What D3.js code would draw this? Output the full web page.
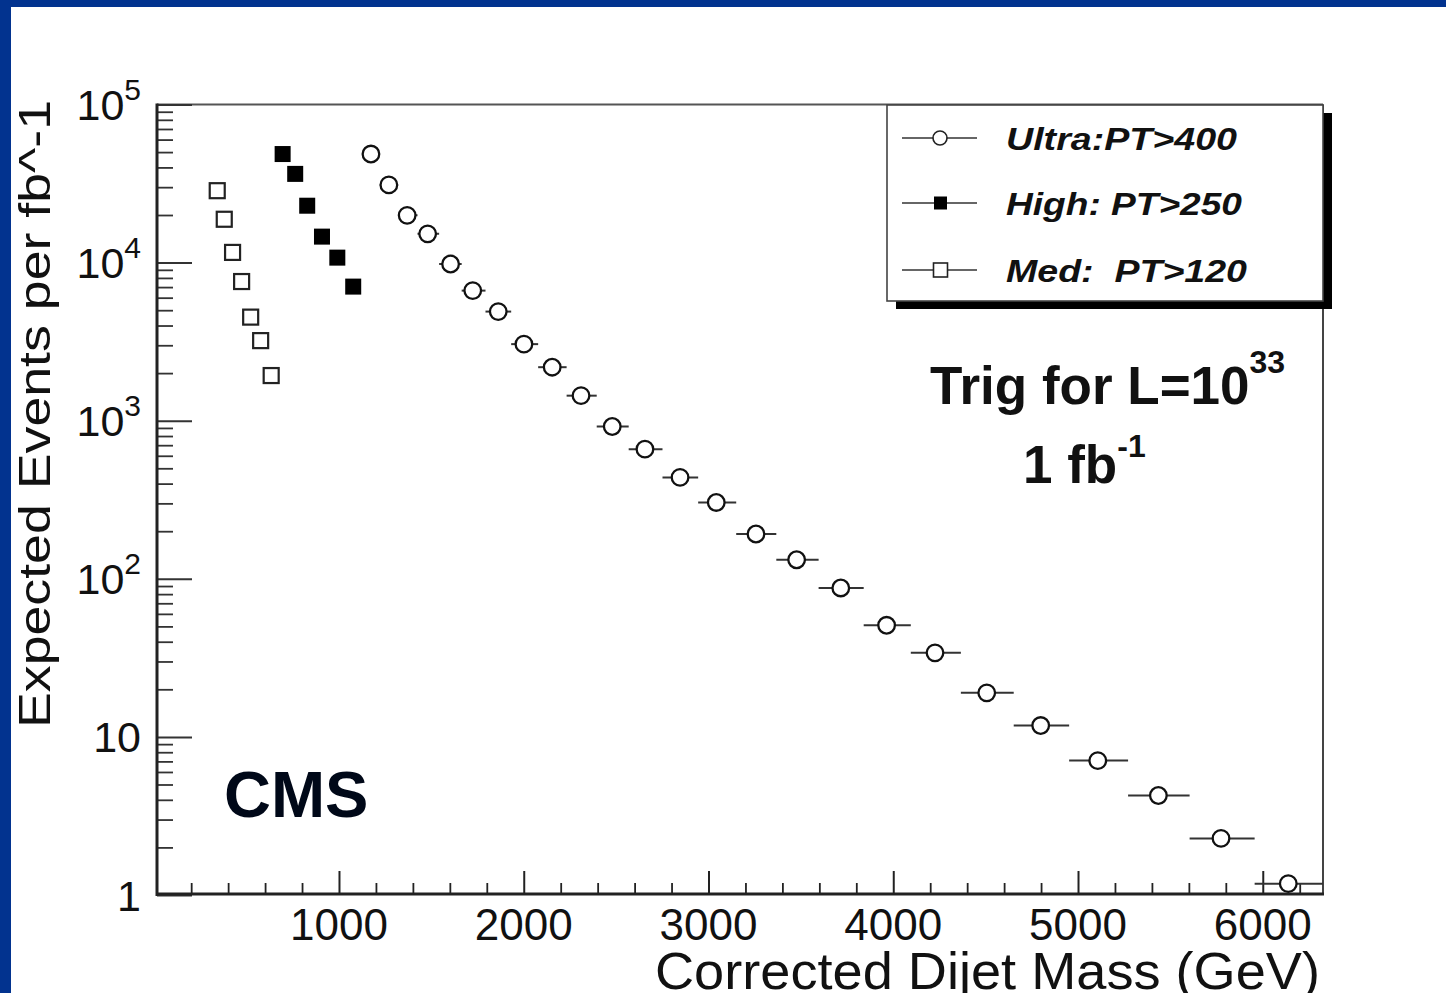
<!DOCTYPE html>
<html><head><meta charset="utf-8">
<script src="https://cdn.jsdelivr.net/npm/d3@7"></script>
<style>html,body{margin:0;padding:0;background:#fff;overflow:hidden}</style>
</head><body><svg id="c" width="1446" height="993"></svg>
<script>
// ---------- data ----------
const ultraMass   = [1173,1270,1369,1480,1604,1724,1862,2001,2154,2310,2479,2656,2846,3042,3257,3477,3716,3964,4226,4506,4798,5107,5435,5774,6138];
const ultraEvents = [48600,31000,19900,15200,9800,6650,4900,3050,2180,1440,919,661,438,304,192,132,87.5,50.8,34.0,19.0,11.8,7.08,4.26,2.28,1.18];
const ultraEdges  = [1125,1221,1320,1425,1542,1664,1793,1932,2078,2232,2395,2568,2751,2944,3150,3367,3596,3840,4095,4366,4652,4952,5271,5604,5956,6330];
const highMass    = [695,763,828,908,991,1077];
const highEvents  = [48600,36400,22900,14600,10750,7050];
const medMass     = [341,379,424,473,522,576,633];
const medEvents   = [28500,18800,11600,7590,4520,3210,1930];
const xTickValues = [1000,2000,3000,4000,5000,6000];
const xTickLabels = ["1000","2000","3000","4000","5000","6000"];
const yTickValues = [1,10,100,1000,10000,100000];
const yTickBase   = ["1","10","10","10","10","10"];
const yTickExp    = ["","","2","3","4","5"];
const legendLabels = ["Ultra:PT>400","High: PT>250","Med:  PT>120"];

// ---------- layout ----------
const svg = d3.select("#c");
const W = 1446, H = 993;
const L = 157, R = 1323, T = 104.5, B = 895;
const blue = "#02338f";

svg.append("rect").attr("x",0).attr("y",0).attr("width",W).attr("height",H).attr("fill","#fff");
svg.append("rect").attr("x",0).attr("y",0).attr("width",W).attr("height",7).attr("fill",blue);
svg.append("rect").attr("x",0).attr("y",0).attr("width",11).attr("height",H).attr("fill",blue);

const x = d3.scaleLinear().domain([15,6326]).range([L,R]);
const y = d3.scaleLog().domain([1,1e5]).range([B,T]);

svg.append("defs").append("clipPath").attr("id","plot")
  .append("rect").attr("x",L).attr("y",T).attr("width",R-L).attr("height",B-T);

// frame top / right
svg.append("line").attr("x1",L).attr("x2",R).attr("y1",T).attr("y2",T).attr("stroke","#555").attr("stroke-width",2);
svg.append("line").attr("x1",R).attr("x2",R).attr("y1",T).attr("y2",B).attr("stroke","#444").attr("stroke-width",2);

// y minor ticks
const yMinor = [];
for (let e=0;e<5;e++) for (let k=2;k<=9;k++) yMinor.push(k*Math.pow(10,e));
svg.append("g").attr("transform",`translate(${L},0)`)
  .call(d3.axisRight(y).tickValues(yMinor).tickSize(16).tickFormat(""))
  .call(g=>{g.select(".domain").remove(); g.selectAll("line").attr("stroke","#333").attr("stroke-width",1.8);});
svg.append("g").attr("transform",`translate(${L},0)`)
  .call(d3.axisRight(y).tickValues(yTickValues).tickSize(35).tickFormat(""))
  .call(g=>{g.select(".domain").remove(); g.selectAll("line").attr("stroke","#333").attr("stroke-width",2);});

// x ticks
const xMinor = d3.range(200,6300,200).filter(v=>v%1000!==0);
svg.append("g").attr("transform",`translate(0,${B-1})`)
  .call(d3.axisTop(x).tickValues(xMinor).tickSize(11).tickFormat(""))
  .call(g=>{g.select(".domain").remove(); g.selectAll("line").attr("stroke","#222").attr("stroke-width",1.8);});
svg.append("g").attr("transform",`translate(0,${B-1})`)
  .call(d3.axisTop(x).tickValues(xTickValues).tickSize(23).tickFormat(""))
  .call(g=>{g.select(".domain").remove(); g.selectAll("line").attr("stroke","#222").attr("stroke-width",2);});

// axis lines
svg.append("line").attr("x1",L).attr("x2",L).attr("y1",T-1).attr("y2",B+1).attr("stroke","#222").attr("stroke-width",3);
svg.append("line").attr("x1",L-1).attr("x2",R+1).attr("y1",B-1).attr("y2",B-1).attr("stroke","#222").attr("stroke-width",3);

// tick labels
const font = "Liberation Sans, Arial, Helvetica, sans-serif";
svg.append("g").selectAll("text").data(xTickValues).join("text")
  .attr("x",d=>x(d)).attr("y",940).attr("text-anchor","middle")
  .attr("font-family",font).attr("font-size",44).attr("fill","#111")
  .text((d,i)=>xTickLabels[i]);

const yl = svg.append("g").selectAll("text").data(yTickValues).join("text")
  .attr("x",141).attr("y",d=>y(d)+15.5).attr("text-anchor","end")
  .attr("font-family",font).attr("font-size",43).attr("fill","#111");
yl.append("tspan").text((d,i)=>yTickBase[i]);
yl.append("tspan").attr("dy",-20).attr("font-size",30).text((d,i)=>yTickExp[i]);

// axis titles
svg.append("text").attr("transform","translate(50,728) rotate(-90)")
  .attr("font-family",font).attr("font-size",45).attr("fill","#111")
  .attr("textLength",628).attr("lengthAdjust","spacingAndGlyphs")
  .text("Expected Events per fb^-1");
svg.append("text").attr("x",655).attr("y",989)
  .attr("font-family",font).attr("font-size",52).attr("fill","#111")
  .attr("textLength",665).attr("lengthAdjust","spacingAndGlyphs")
  .text("Corrected Dijet Mass (GeV)");

// ---------- data marks ----------
const plot = svg.append("g").attr("clip-path","url(#plot)");
const ultra = ultraMass.map((m,i)=>({m, v:ultraEvents[i], lo:ultraEdges[i], hi:ultraEdges[i+1]}));
plot.selectAll("line.eb").data(ultra).join("line").attr("class","eb")
  .attr("x1",d=>x(d.lo)).attr("x2",d=>x(d.hi)).attr("y1",d=>y(d.v)).attr("y2",d=>y(d.v))
  .attr("stroke","#333").attr("stroke-width",2);
plot.selectAll("circle.u").data(ultra).join("circle").attr("class","u")
  .attr("cx",d=>x(d.m)).attr("cy",d=>y(d.v)).attr("r",8.3)
  .attr("fill","#fff").attr("stroke","#111").attr("stroke-width",2.3);

const high = highMass.map((m,i)=>({m, v:highEvents[i]}));
plot.selectAll("rect.h").data(high).join("rect").attr("class","h")
  .attr("x",d=>x(d.m)-8).attr("y",d=>y(d.v)-8).attr("width",16).attr("height",16)
  .attr("fill","#000");

const med = medMass.map((m,i)=>({m, v:medEvents[i]}));
plot.selectAll("rect.m").data(med).join("rect").attr("class","m")
  .attr("x",d=>x(d.m)-7.5).attr("y",d=>y(d.v)-7.5).attr("width",15).attr("height",15)
  .attr("fill","#fff").attr("stroke","#222").attr("stroke-width",2.2);

// ---------- legend ----------
const lg = svg.append("g");
lg.append("rect").attr("x",896).attr("y",113).attr("width",436).attr("height",196).attr("fill","#000");
lg.append("rect").attr("x",887).attr("y",105).attr("width",436).attr("height",196)
  .attr("fill","#fff").attr("stroke","#444").attr("stroke-width",1.6);
const rows = [138,203,270];
const lens = [231,236,241];
rows.forEach((ry,i)=>{
  lg.append("line").attr("x1",902).attr("x2",977).attr("y1",ry).attr("y2",ry).attr("stroke","#333").attr("stroke-width",1.6);
  if (i===0) lg.append("circle").attr("cx",940).attr("cy",ry).attr("r",7).attr("fill","#fff").attr("stroke","#222").attr("stroke-width",1.6);
  if (i===1) lg.append("rect").attr("x",934).attr("y",ry-6.5).attr("width",13).attr("height",13).attr("fill","#000");
  if (i===2) lg.append("rect").attr("x",933.5).attr("y",ry-7).attr("width",14).attr("height",14).attr("fill","#fff").attr("stroke","#222").attr("stroke-width",1.6);
  lg.append("text").attr("x",1006).attr("y",ry+11.5)
    .attr("font-family",font).attr("font-size",32).attr("font-weight","bold").attr("font-style","italic")
    .attr("fill","#111").style("white-space","pre")
    .attr("textLength",lens[i]).attr("lengthAdjust","spacingAndGlyphs")
    .text(legendLabels[i]);
});

// ---------- annotations ----------
const t1 = svg.append("text").attr("x",930).attr("y",404)
  .attr("font-family",font).attr("font-size",53).attr("font-weight","bold").attr("fill","#111");
t1.append("tspan").text("Trig for L=10");
t1.append("tspan").attr("dy",-31).attr("font-size",32).text("33");
const t2 = svg.append("text").attr("x",1023).attr("y",483)
  .attr("font-family",font).attr("font-size",53).attr("font-weight","bold").attr("fill","#111");
t2.append("tspan").text("1 fb");
t2.append("tspan").attr("dy",-26).attr("font-size",32).text("-1");

svg.append("text").attr("x",224).attr("y",817)
  .attr("font-family",font).attr("font-size",65).attr("font-weight","bold").attr("fill","#000818")
  .text("CMS");
</script></body></html>
